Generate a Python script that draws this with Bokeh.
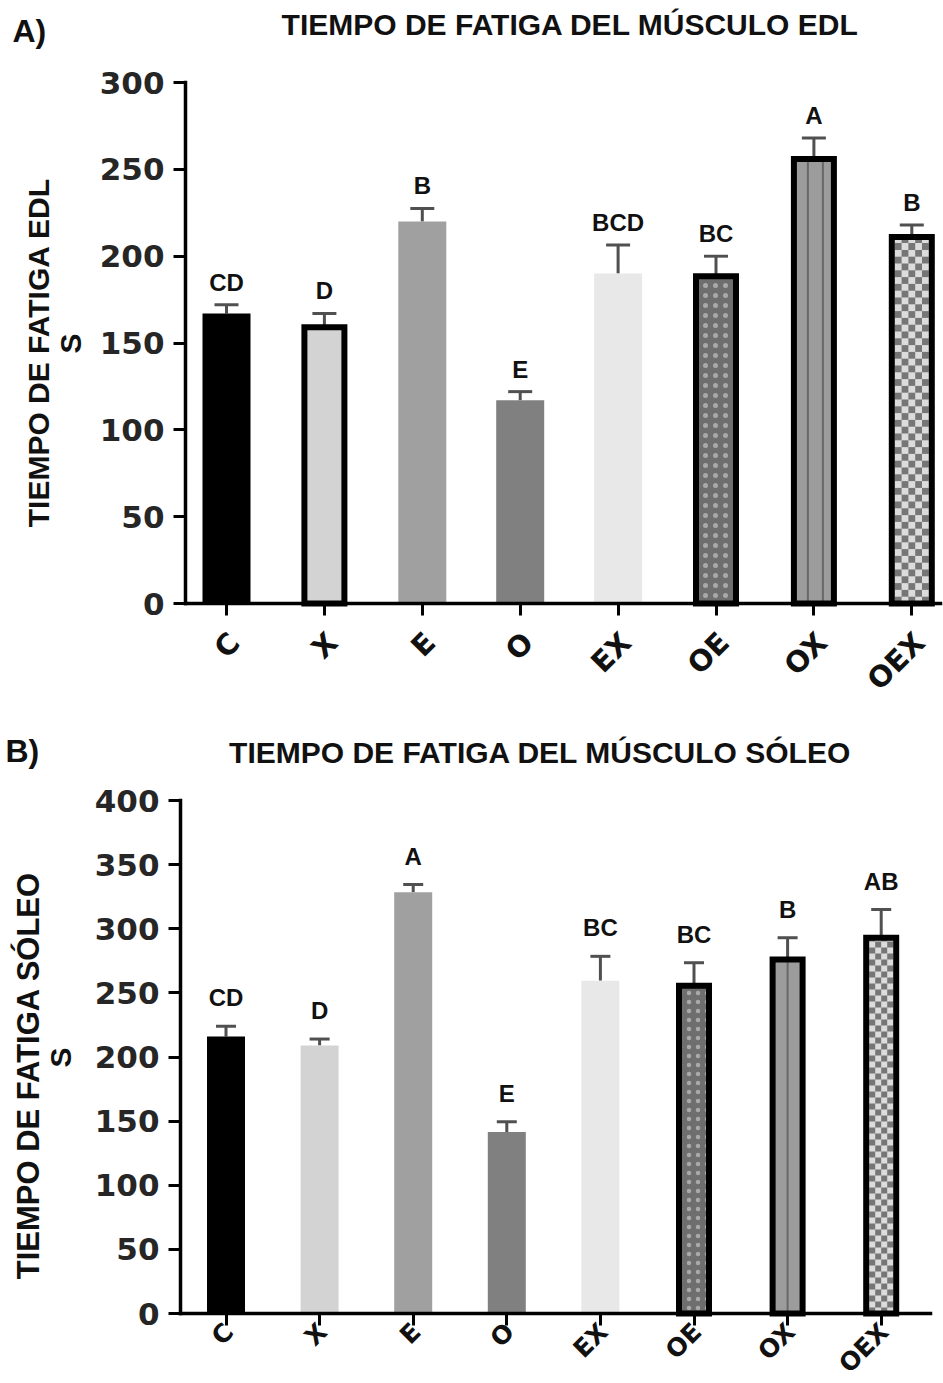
import math
from bokeh.plotting import figure
from bokeh.models import (ColumnDataSource, FixedTicker, Whisker, TeeHead,
                          LabelSet, Label, LinearAxis)
from bokeh.layouts import column
from bokeh.embed import file_html
from bokeh.resources import INLINE
from bokeh.core.properties import value

# ---------------- data ----------------
categories = ["C", "X", "E", "O", "EX", "OE", "OX", "OEX"]

edl_mean = [167, 159, 220, 117, 190, 188.5, 256, 211]
edl_err = [5, 8, 7.5, 5, 16.5, 11.5, 12, 7]
edl_letters = ["CD", "D", "B", "E", "BCD", "BC", "A", "B"]

sol_mean = [216, 209, 328.5, 141.5, 259.5, 255.5, 276, 293]
sol_err = [8, 5, 6, 8, 19, 18, 17, 22]
sol_letters = ["CD", "D", "A", "E", "BC", "BC", "B", "AB"]

edl_ticks = [0, 50, 100, 150, 200, 250, 300]
sol_ticks = [0, 50, 100, 150, 200, 250, 300, 350, 400]

# ---------------- style ----------------
bar_colors = ["#000000", "#d3d3d3", "#a0a0a0", "#808080", "#e8e8e8",
              "#6e6e6e", "#9c9c9c", "#dcdcdc"]
CHECK_DARK = "#767676"
ERR_COLOR = "#505050"
TXT = "#111111"
TICK_TXT = "#262626"
BOLD_SANS = "Liberation Sans"
WIDE_SANS = "DejaVu Sans"
W = 943


def style_axis(ax):
    ax.axis_line_width = 3.5
    ax.axis_line_color = "black"
    ax.axis_line_cap = "square"
    ax.major_tick_line_width = 3
    ax.major_tick_line_color = "black"
    ax.major_tick_out = 12
    ax.major_tick_in = 0
    ax.minor_tick_line_color = None


def panel(mean, err, letters, ticks, bordered, title, tag, ylab, geo):
    n = len(categories)
    xs = list(range(n))
    ppx = geo["spacing"]
    c0 = geo["c0"]
    ymax = ticks[-1]
    ppy = (geo["bottom"] - geo["top"]) / ymax
    ct, H = geo["ctop"], geo["h"]

    def dx(page_x):
        return (page_x - c0) / ppx

    def dy(page_y):
        return (geo["bottom"] - page_y) / ppy

    p = figure(width=W, height=H,
               x_range=(dx(0), dx(W)), y_range=(dy(ct + H), dy(ct)),
               output_backend="svg", toolbar_location=None, min_border=0)
    p.outline_line_color = None
    p.xgrid.visible = False
    p.ygrid.visible = False
    p.background_fill_color = "white"
    p.border_fill_color = "white"

    style_axis(p.xaxis[0])
    style_axis(p.yaxis[0])

    p.yaxis.fixed_location = dx(geo["left"])
    p.yaxis.bounds = (0, ymax)
    p.yaxis.ticker = FixedTicker(ticks=ticks)
    p.yaxis.major_label_text_font = WIDE_SANS
    p.yaxis.major_label_text_font_style = "bold"
    p.yaxis.major_label_text_font_size = "31px"
    p.yaxis.major_label_text_color = TICK_TXT
    p.yaxis.major_label_standoff = 9

    # main x axis: line + ticks only
    p.xaxis.fixed_location = 0
    p.xaxis.bounds = (dx(geo["left"]), dx(geo["right"]))
    p.xaxis.ticker = FixedTicker(ticks=xs)
    p.xaxis.major_label_text_alpha = 0
    p.xaxis.major_label_text_font_size = "10px"
    p.xaxis.major_label_overrides = {i: c for i, c in zip(xs, categories)}

    # label-only axis, nudged right a little, rotated labels
    sh = geo["lab_shift"] / ppx
    lt = [x + sh for x in xs]
    lab_ax = LinearAxis(fixed_location=0, ticker=FixedTicker(ticks=lt),
                        major_label_overrides={t: c for t, c in zip(lt, categories)},
                        axis_line_color=None, major_tick_line_color=None,
                        minor_tick_line_color=None, major_tick_out=12,
                        major_tick_in=0,
                        major_label_orientation=math.pi / 4,
                        major_label_text_font=WIDE_SANS,
                        major_label_text_font_style="bold",
                        major_label_text_font_size=geo["cat_size"],
                        major_label_text_color=TXT,
                        major_label_standoff=geo["cat_standoff"])
    p.add_layout(lab_ax, "below")

    wu = geo["bar_px"] / ppx
    wb = (geo["bar_px"] - 2 - geo["lw"]) / ppx
    widths = [wb if b else wu for b in bordered]

    src = ColumnDataSource(dict(
        x=xs, top=mean, hi=[m + e for m, e in zip(mean, err)],
        width=widths, color=bar_colors, letters=letters))

    # fills
    p.vbar(x="x", top="top", width="width", bottom=0, source=src,
           fill_color="color", line_color=None)

    # OE: dotted texture
    i_oe = categories.index("OE")
    p.vbar(x=[xs[i_oe]], top=[mean[i_oe]], width=wb, bottom=0,
           fill_color=bar_colors[i_oe], line_color=None,
           hatch_pattern="dot", hatch_color="#a9a9a9",
           hatch_scale=geo["dot"], hatch_weight=1.5)

    # OX: thin vertical stripes
    i_ox = categories.index("OX")
    sx = [xs[i_ox] + o / ppx for o in geo["stripes"]]
    p.segment(x0=sx, y0=[0] * len(sx), x1=sx, y1=[mean[i_ox]] * len(sx),
              line_color="#686868", line_width=2)

    # OEX: checkerboard
    i_ck = categories.index("OEX")
    inner_px = wb * ppx - geo["lw"]
    ncol = geo["ncol"]
    cell = inner_px / ncol
    left_px = -inner_px / 2
    top_px = mean[i_ck] * ppy - geo["lw"] / 2
    nrow = int(math.ceil(top_px / cell))
    cx, cy = [], []
    for r in range(nrow):
        for c in range(ncol):
            if (r + c) % 2 == 0:
                cx.append(xs[i_ck] + (left_px + (c + 0.5) * cell) / ppx)
                cy.append((r + 0.5) * cell / ppy)
    p.rect(x=cx, y=cy, width=cell, height=cell, width_units="screen",
           height_units="screen", fill_color=CHECK_DARK, line_color=None)

    # outlines for bordered bars
    bx = [x for x, b in zip(xs, bordered) if b]
    bt = [m for m, b in zip(mean, bordered) if b]
    p.vbar(x=bx, top=bt, width=wb, bottom=0, fill_color=None,
           line_color="black", line_width=geo["lw"], line_join="miter")

    # error bars (upper only)
    p.add_layout(Whisker(source=src, base="x", upper="hi", lower="top",
                         lower_head=None,
                         upper_head=TeeHead(size=geo["cap"], line_width=3,
                                            line_color=ERR_COLOR),
                         line_width=3, line_color=ERR_COLOR))

    # significance letters
    p.add_layout(LabelSet(source=src, x="x", y="hi", text="letters",
                          y_offset=geo["let_off"], text_align="center",
                          text_baseline="alphabetic",
                          text_font=value(BOLD_SANS), text_font_style="bold",
                          text_font_size="24px", text_color=TXT))

    # titles
    p.add_layout(Label(x=dx(geo["title_xy"][0]), y=dy(geo["title_xy"][1]),
                       text=title, text_align="center", text_baseline="middle",
                       text_font=BOLD_SANS, text_font_style="bold",
                       text_font_size="30px", text_color=TXT))
    p.add_layout(Label(x=dx(geo["tag_xy"][0]), y=dy(geo["tag_xy"][1]),
                       text=tag, text_align="left", text_baseline="middle",
                       text_font=BOLD_SANS, text_font_style="bold",
                       text_font_size="32px", text_color=TXT))
    # y-axis title (two lines)
    p.add_layout(Label(x=dx(geo["ylab_xy"][0]), y=dy(geo["ylab_xy"][1]),
                       text=ylab, angle=math.pi / 2, text_align="center",
                       text_baseline="middle",
                       text_font=BOLD_SANS, text_font_style="bold",
                       text_font_size=geo["ylab_size"], text_color=TXT))
    p.add_layout(Label(x=dx(geo["s_xy"][0]), y=dy(geo["s_xy"][1]),
                       text="S", angle=math.pi / 2, text_align="center",
                       text_baseline="middle",
                       text_font=BOLD_SANS, text_font_style="bold",
                       text_font_size="30px", text_color=TXT))
    return p


geo_a = dict(ctop=0, h=700, left=185, right=940, top=82, bottom=603,
             c0=226, spacing=97.9, bar_px=48, lw=6, cap=24,
             let_off=14, cat_standoff=22, cat_size="29px", lab_shift=8,
             dot=10, stripes=[-6, 9], ncol=5, ylab_size="30px",
             title_xy=(570, 24), tag_xy=(12, 30), ylab_xy=(38, 352),
             s_xy=(70, 343))
geo_b = dict(ctop=700, h=683, left=180, right=930, top=800, bottom=1313,
             c0=225.5, spacing=93.6, bar_px=38, lw=6, cap=20,
             let_off=20, cat_standoff=2, cat_size="25px", lab_shift=3,
             dot=9, stripes=[0], ncol=4, ylab_size="31px",
             title_xy=(540, 752), tag_xy=(5, 750), ylab_xy=(28, 1075),
             s_xy=(60, 1057))

bord_a = [False, True, False, False, False, True, True, True]
bord_b = [False, False, False, False, False, True, True, True]

pa = panel(edl_mean, edl_err, edl_letters, edl_ticks, bord_a,
           "TIEMPO DE FATIGA DEL MÚSCULO EDL", "A)",
           "TIEMPO DE FATIGA EDL", geo_a)
pb = panel(sol_mean, sol_err, sol_letters, sol_ticks, bord_b,
           "TIEMPO DE FATIGA DEL MÚSCULO SÓLEO", "B)",
           "TIEMPO DE FATIGA SÓLEO", geo_b)

layout = column(pa, pb, spacing=0)
open("out.html", "w").write(file_html(layout, INLINE))
